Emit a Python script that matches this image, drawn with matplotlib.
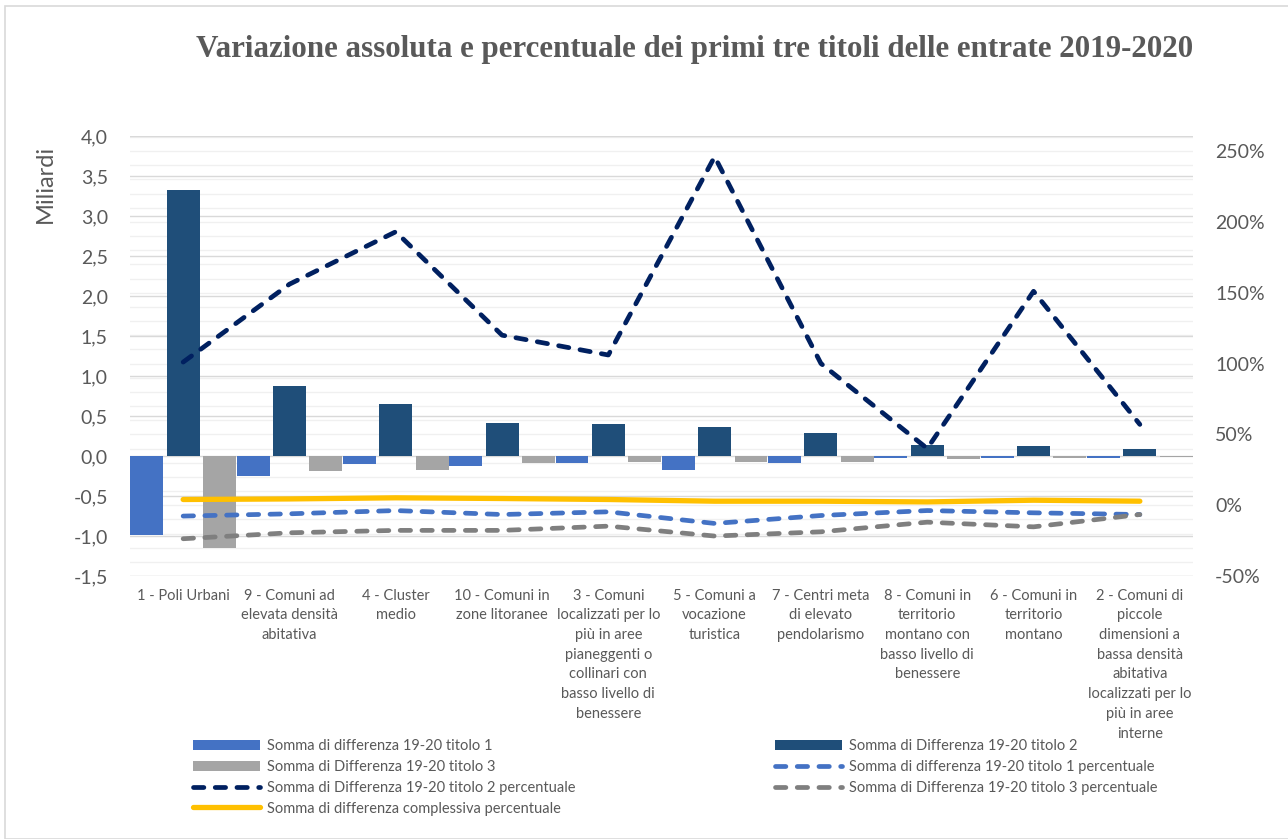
import matplotlib
matplotlib.use("Agg")
import matplotlib.pyplot as plt
import matplotlib.transforms as mtransforms
from matplotlib.lines import Line2D
from matplotlib.patches import Patch, Rectangle
import numpy as np

categories = [
    "1 - Poli Urbani",
    "9 - Comuni ad\nelevata densità\nabitativa",
    "4 - Cluster\nmedio",
    "10 - Comuni in\nzone litoranee",
    "3 - Comuni\nlocalizzati per lo\npiù in aree\npianeggenti o\ncollinari con\nbasso livello di\nbenessere",
    "5 - Comuni a\nvocazione\nturistica",
    "7 - Centri meta\ndi elevato\npendolarismo",
    "8 - Comuni in\nterritorio\nmontano con\nbasso livello di\nbenessere",
    "6 - Comuni in\nterritorio\nmontano",
    "2 - Comuni di\npiccole\ndimensioni a\nbassa densità\nabitativa\nlocalizzati per lo\npiù in aree\ninterne",
]

# absolute differences (billions)
diff_t1 = [-0.99, -0.25, -0.10, -0.12, -0.09, -0.18, -0.09, -0.03, -0.03, -0.03]
diff_t2 = [3.33, 0.88, 0.65, 0.41, 0.40, 0.36, 0.29, 0.14, 0.13, 0.09]
diff_t3 = [-1.15, -0.19, -0.17, -0.09, -0.08, -0.08, -0.08, -0.04, -0.03, -0.01]

# percentage differences
pct_t1 = [-7.7, -6.1, -3.8, -6.6, -4.7, -12.9, -7.3, -3.8, -5.4, -6.6]
pct_t2 = [101, 156, 193, 120, 106, 246, 100, 40, 151, 57]
pct_t3 = [-23.7, -19.5, -17.8, -17.8, -14.8, -21.8, -18.8, -12.0, -15.3, -6.6]
pct_tot = [4.0, 4.4, 5.2, 4.7, 4.0, 2.8, 2.8, 2.3, 3.5, 2.8]

left_ticks = [-1.5, -1.0, -0.5, 0.0, 0.5, 1.0, 1.5, 2.0, 2.5, 3.0, 3.5, 4.0]
right_ticks = [-50, 0, 50, 100, 150, 200, 250]

labels = {
    "t1": "Somma di differenza 19-20 titolo 1",
    "t2": "Somma di Differenza 19-20 titolo 2",
    "t3": "Somma di Differenza 19-20 titolo 3",
    "p1": "Somma di differenza 19-20 titolo 1 percentuale",
    "p2": "Somma di Differenza 19-20 titolo 2 percentuale",
    "p3": "Somma di Differenza 19-20 titolo 3 percentuale",
    "tot": "Somma di differenza complessiva percentuale",
}

C_BLUE = "#4472C4"
C_DARK = "#1F4E79"
C_GRAY = "#A5A5A5"
C_NAVY = "#002060"
C_GLINE = "#7F7F7F"
C_YELLOW = "#FFC000"
TXT = "#595959"

plt.rcParams['font.family'] = ['Lato', 'DejaVu Sans']

W, H = 1288, 839
fig = plt.figure(figsize=(W / 100, H / 100), dpi=100)
fig.patch.set_facecolor("white")

# outer border
fig.patches.append(Rectangle((5 / W, 0), 1.2, 1 - 6 / H, transform=fig.transFigure,
                             fill=False, edgecolor="#d9d9d9", linewidth=1.2))

L, R, T, B = 130, 1193, 136, 576
ax = fig.add_axes([L / W, 1 - B / H, (R - L) / W, (B - T) / H])
ax2 = ax.twinx()

x = np.arange(len(categories))
bw = 0.31
off = 0.342
ax.bar(x - off, diff_t1, bw, color=C_BLUE, zorder=3)
ax.bar(x, diff_t2, bw, color=C_DARK, zorder=3)
ax.bar(x + off, diff_t3, bw, color=C_GRAY, zorder=3)

ax.set_xlim(-0.5, len(categories) - 0.5)
ax.set_ylim(-1.5, 4.0)
ax2.set_ylim(-50, 260.6)

# gridlines
for v in left_ticks:
    ax.axhline(v, color="#d9d9d9", linewidth=1.0, zorder=1)
blend = mtransforms.blended_transform_factory(ax.transAxes, ax2.transData)
for p in range(-50, 261, 10):
    ax.plot([0, 1], [p, p], transform=blend, color="#f0f0f0", linewidth=1.0, zorder=0.5)

lw = 3.4
dash = (2.2, 2.4)
ax2.plot(x, pct_tot, color=C_YELLOW, linewidth=3.8, solid_capstyle="round", zorder=4)
ax2.plot(x, pct_t1, color=C_BLUE, linewidth=lw, dashes=dash, dash_capstyle="round", zorder=4)
ax2.plot(x, pct_t3, color=C_GLINE, linewidth=lw, dashes=dash, dash_capstyle="round", zorder=4)
ax2.plot(x, pct_t2, color=C_NAVY, linewidth=lw, dashes=dash, dash_capstyle="round", zorder=5)

for a in (ax, ax2):
    for s in a.spines.values():
        s.set_visible(False)

ax.set_yticks(left_ticks)
ax.set_yticklabels([f"{v:.1f}".replace(".", ",") for v in left_ticks])
ax.tick_params(axis="y", length=0, pad=16, labelsize=14, labelcolor=TXT)
ax2.set_yticks(right_ticks)
ax2.set_yticklabels([f"{v}%" for v in right_ticks])
ax2.tick_params(axis="y", length=0, pad=16, labelsize=14, labelcolor=TXT)

ax.set_xticks(x)
ax.set_xticklabels(categories, fontsize=10.5, color=TXT, linespacing=1.52, va="top")
ax.tick_params(axis="x", length=0, pad=9)

fig.text(45 / W, 1 - 184 / H, "Miliardi", rotation=90, ha="center", va="center",
         fontsize=17, color=TXT)

fig.text(695 / W, 1 - 49 / H,
         "Variazione assoluta e percentuale dei primi tre titoli delle entrate 2019-2020",
         ha="center", va="center", fontsize=22.3, fontweight="bold", color=TXT,
         family=["Liberation Serif", "DejaVu Serif"])

# legend (row-major, two columns)
h_t1 = Patch(facecolor=C_BLUE, label=labels["t1"])
h_t2 = Patch(facecolor=C_DARK, label=labels["t2"])
h_t3 = Patch(facecolor=C_GRAY, label=labels["t3"])
h_p1 = Line2D([], [], color=C_BLUE, linewidth=lw, dashes=dash, dash_capstyle="round", label=labels["p1"])
h_p2 = Line2D([], [], color=C_NAVY, linewidth=lw, dashes=dash, dash_capstyle="round", label=labels["p2"])
h_p3 = Line2D([], [], color=C_GLINE, linewidth=lw, dashes=dash, dash_capstyle="round", label=labels["p3"])
h_tot = Line2D([], [], color=C_YELLOW, linewidth=3.8, solid_capstyle="round", label=labels["tot"])

common = dict(frameon=False, fontsize=10.5, handlelength=4.6, handleheight=0.7,
              handletextpad=0.5, labelspacing=0.47, borderpad=0, borderaxespad=0,
              labelcolor=TXT, loc="upper left")
leg1 = fig.legend(handles=[h_t1, h_t3, h_p2, h_tot], bbox_to_anchor=(193 / W, 1 - 739 / H), **common)
leg2 = fig.legend(handles=[h_t2, h_p1, h_p3], bbox_to_anchor=(775 / W, 1 - 739 / H), **common)

fig.savefig("out.png", dpi=100, facecolor="white")
